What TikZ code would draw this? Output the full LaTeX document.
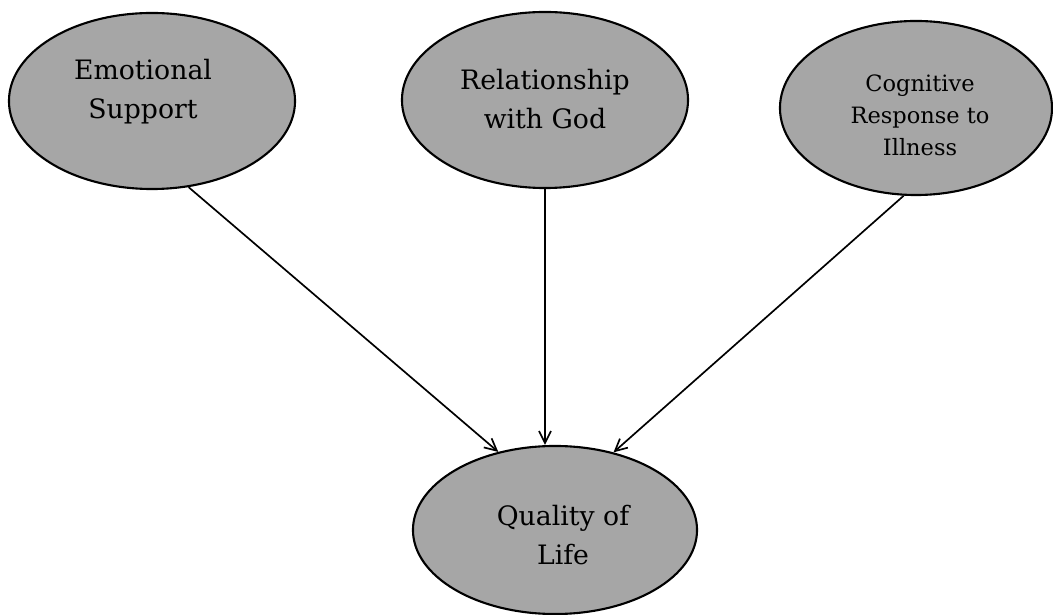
\documentclass[tikz,border=0pt]{standalone}
\usepackage{fontspec}
\setmainfont{DejaVu Serif}
\usetikzlibrary{shapes.geometric,arrows.meta}
\tikzset{x=0.025cm ,y=-0.025cm ,semithick ,
factor/.style ={ellipse ,draw ,line width=1.5pt ,fill=black!35 ,inner sep=0pt},
caption/.style ={align=center ,font=\fontsize{19}{27.7}\selectfont},
small caption/.style ={align=center ,font=\fontsize{16}{22.8}\selectfont},
link/.style ={-{Straight Barb[length=3mm,width=3mm]} ,line width=1.2pt}}

\begin{document}
\begin{tikzpicture}
\useasboundingbox (0,0) rectangle (1053,615);
\node[factor, minimum width=7.15cm, minimum height=4.4cm] (ES) at (152,101) {};
\node[factor, minimum width=7.15cm, minimum height=4.4cm] (RG) at (545,100) {};
\node[factor, minimum width=6.8cm, minimum height=4.35cm] (CR) at (916,108) {};
\node[factor, minimum width=7.1cm, minimum height=4.2cm] (QL) at (555,530) {};
\node[caption] (ESt) at (143,92) {Emotional\\Support};
\node[caption] (RGt) at (545,99) {Relationship\\with God};
\node[small caption] (CRt) at (920,115) {Cognitive\\Response to\\Illness};
\node[caption] (QLt) at (563,535) {Quality of\\Life};
\path[link]
    (ES.-67.5) edge (QL.126.6)
    (RG.south) edge (QL.north -| RG.south)
    (CR.-98.5) edge (QL.53.8);
\end{tikzpicture}
\end{document}
